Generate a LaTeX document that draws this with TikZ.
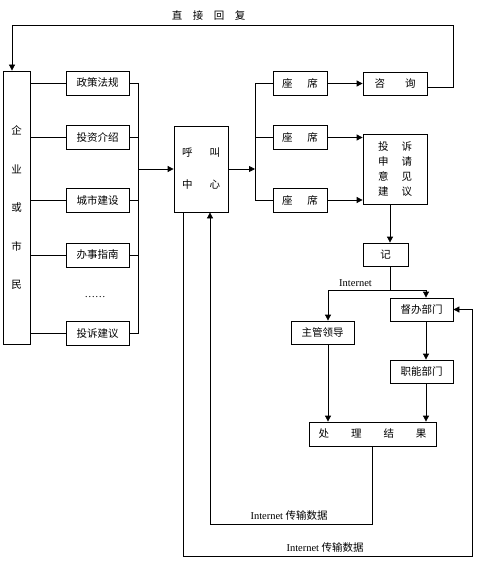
\documentclass[tikz,border=0pt]{standalone}
\usepackage{fontspec}
\setmainfont{Liberation Serif}
\newfontfamily\cjk{Noto Sans CJK SC}
\usetikzlibrary{arrows.meta,calc}
\tikzset{
	box/.style={draw,inner sep=0pt,minimum width=63pt,minimum height=23pt},
	arr/.style={-{Triangle[length=6pt,width=6pt]}},
	lbl/.style={inner sep=0pt}
}
\begin{document}
\begin{tikzpicture}[x=1pt,y=-1pt,line width=0.8pt,line join=miter,font=\cjk\fontsize{10.5}{12}\selectfont]
				\useasboundingbox (0,0) rectangle (477,561);
				\node[box,minimum width=27pt,minimum height=273pt,align=center,font=\cjk\fontsize{10.5}{38.5}\selectfont] (citizen) at (16.5,207.5) {企\\业\\或\\市\\民};
				\foreach \n/\y/\t in {policy/83/政策法规,invest/137.5/投资介绍,city/200/城市建设,guide/255/办事指南,complaint/333.5/投诉建议}
				\node[box,minimum height=24pt] (\n) at (97.5,\y) {\t};
				\node[lbl,font=\rmfamily\fontsize{10.5}{12}\selectfont] (dots) at (95,297) {……};
				\node[box,minimum width=54pt,minimum height=86pt,align=center] (call) at (201,169) {呼\hspace{17pt}叫\\[20pt]中\hspace{17pt}心};
				\foreach \n/\y in {seatA/83.5,seatB/137.5,seatC/200}
				\node[box,minimum width=54pt,minimum height=24pt] (\n) at (300,\y) {座\hspace{15pt}席};
				\node[box,minimum width=64pt] (consult) at (395,83.5) {咨\hspace{20pt}询\hspace{5pt}};
				\node[box,minimum width=64pt,minimum height=70pt,align=center,font=\cjk\fontsize{10.5}{15.3}\selectfont] (appeal) at (395,169) {投\hspace{13pt}诉\\申\hspace{13pt}请\\意\hspace{13pt}见\\建\hspace{13pt}议};
				\node[box,minimum width=45pt] (rec) at (385.5,254.5) {记\hspace{17pt}};
				\node[box] (super) at (421.5,309.5) {督办部门};
				\node[box] (leader) at (322.5,332.5) {主管领导};
				\node[box] (dept) at (421.5,371.5) {职能部门};
				\node[box,minimum width=127pt,minimum height=24pt] (result) at (372.5,434) {处\hspace{22pt}理\hspace{22pt}结\hspace{22pt}果};
				\node[lbl] (reply) at (208.5,16) {直\hspace{10.5pt}接\hspace{10.5pt}回\hspace{10.5pt}复};
				\node[lbl,font=\rmfamily\fontsize{10.5}{12}\selectfont] (inet) at (355.5,283) {Internet};
				\node[lbl] (netA) at (289,516) {{\rmfamily Internet} 传输数据};
				\node[lbl] (netB) at (325,548) {{\rmfamily Internet} 传输数据};
				\path
				(453,25) coordinate (replyR)
				(12,25) coordinate (replyL)
				(138,166) coordinate (busL)
				(255,166) coordinate (busR)
				(390,290) coordinate (split)
				(328,290) coordinate (colL)
				(426,290) coordinate (colR)
				(210,524) coordinate (backA)
				(183,556) coordinate (backB)
				(472,556) coordinate (backC)
				;
				\draw[arr] ([yshift=-3.5pt]consult.east) -| (replyR) -- (replyL) -- (replyL |- citizen.north);
				\foreach \n in {policy,invest,city,guide,complaint}{
					\draw (citizen.east |- \n.west) -- (\n.west);
					\draw (\n.east) -- (busL |- \n.east);
				}
				\draw (busL |- policy.east) -- (busL |- complaint.east);
				\draw[arr] (busL |- call.west) -- (call.west);
				\draw[arr] (call.east) -- (busR |- call.east);
				\draw (busR |- seatA.west) -- (busR |- seatC.west);
				\foreach \n in {seatA,seatB,seatC} \draw (busR |- \n.west) -- (\n.west);
				\draw[arr] (seatA.east) -- (consult.west);
				\draw[arr] (seatB.east) -- (seatB.east -| appeal.west);
				\draw[arr] (seatC.east) -- (seatC.east -| appeal.west);
				\draw[arr] (split |- appeal.south) -- (split |- rec.north);
				\draw (split |- rec.south) -- (split);
				\draw[arr] (split) -| (colL |- leader.north);
				\draw[arr] (split) -| (colR |- super.north);
				\draw[arr] (colR |- super.south) -- (colR |- dept.north);
				\draw[arr] (colR |- dept.south) -- (colR |- result.north);
				\draw[arr] (colL |- leader.south) -- (colL |- result.north);
				\draw[arr] (result.south) |- (backA) -- (backA |- call.south);
				\draw[arr] (backB |- call.south) -- (backB) -- (backC) |- (super.east);
			\end{tikzpicture}
\end{document}
